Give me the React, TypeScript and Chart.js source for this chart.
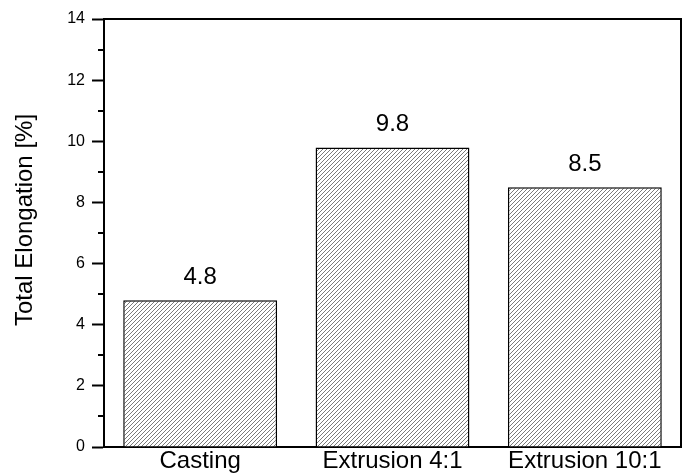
import React, { useEffect, useRef } from "react";
import { Chart, registerables } from "chart.js";

Chart.register(...registerables);

const categories = ["Casting", "Extrusion 4:1", "Extrusion 10:1"];
const elongation = [4.8, 9.8, 8.5];
const valueLabels = ["4.8", "9.8", "8.5"];
const yMinorTicks = [1, 3, 5, 7, 9, 11, 13];
const yTitle = "Total Elongation [%]";

const FONT = "'Liberation Sans', Arial, sans-serif";

export default function App() {
  const ref = useRef<HTMLCanvasElement | null>(null);

  useEffect(() => {
    const canvas = ref.current;
    if (!canvas) return;
    const ctx = canvas.getContext("2d")!;

    const pc = document.createElement("canvas");
    pc.width = 4;
    pc.height = 4;
    const p = pc.getContext("2d")!;
    p.fillStyle = "#ffffff";
    p.fillRect(0, 0, 4, 4);
    p.strokeStyle = "#7a7a7a";
    p.lineWidth = 1;
    p.beginPath();
    p.moveTo(0, 4);
    p.lineTo(4, 0);
    p.moveTo(-1, 1);
    p.lineTo(1, -1);
    p.moveTo(3, 5);
    p.lineTo(5, 3);
    p.stroke();
    const pattern = ctx.createPattern(pc, "repeat")!;

    const framePlugin = {
      id: "frame",
      afterDraw(chart: any) {
        const c = chart.ctx;
        const { left, right, top, bottom } = chart.chartArea;
        const y = chart.scales.y;
        c.save();
        c.strokeStyle = "#000";
        c.lineWidth = 2;
        c.beginPath();
        c.moveTo(left - 1, top);
        c.lineTo(right, top);
        c.lineTo(right, bottom + 1);
        c.stroke();
        c.beginPath();
        yMinorTicks.forEach((v) => {
          const py = Math.round(y.getPixelForValue(v));
          c.moveTo(left - 6, py);
          c.lineTo(left, py);
        });
        c.stroke();

        // y-axis title
        c.fillStyle = "#000";
        c.font = `24px ${FONT}`;
        c.textAlign = "center";
        c.textBaseline = "alphabetic";
        c.translate(32, 220);
        c.rotate(-Math.PI / 2);
        c.fillText(yTitle, 0, 0);
        c.restore();
      },
      afterDatasetsDraw(chart: any) {
        const c = chart.ctx;
        const meta = chart.getDatasetMeta(0);
        c.save();
        c.fillStyle = "#000";
        c.font = `24px ${FONT}`;
        c.textAlign = "center";
        c.textBaseline = "alphabetic";
        meta.data.forEach((el: any, i: number) => {
          c.fillText(valueLabels[i], el.x, el.y - 16);
        });
        c.restore();
      },
    };

    const chart = new Chart(ctx, {
      type: "bar",
      data: {
        labels: categories,
        datasets: [
          {
            data: elongation,
            backgroundColor: pattern as any,
            borderColor: "#000",
            borderWidth: 1.5,
            barPercentage: 0.8,
            categoryPercentage: 1,
          },
        ],
      },
      options: {
        responsive: false,
        animation: false,
        layout: { padding: { top: 19, right: 6, left: 0, bottom: 0 } },
        plugins: {
          legend: { display: false },
          tooltip: { enabled: false },
        },
        scales: {
          x: {
            grid: { display: false, drawTicks: false },
            border: { display: true, color: "#000", width: 2 },
            ticks: {
              color: "#000",
              font: { family: FONT, size: 24 },
              padding: 0,
              maxRotation: 0,
              autoSkip: false,
            },
            afterFit: (s: any) => {
              s.height = 26;
            },
          },
          y: {
            min: 0,
            max: 14,
            grid: {
              display: true,
              drawOnChartArea: false,
              drawTicks: true,
              tickLength: 12,
              tickColor: "#000",
              tickWidth: 2,
            },
            border: { display: true, color: "#000", width: 2 },
            ticks: {
              stepSize: 2,
              color: "#000",
              font: { family: FONT, size: 16 },
              padding: 7,
            },
            afterFit: (s: any) => {
              s.width = 104;
            },
          },
        },
      },
      plugins: [framePlugin],
    });

    return () => chart.destroy();
  }, []);

  return (
    <div style={{ position: "fixed", left: 0, top: 0, width: 687, height: 473, background: "#fff" }}>
      <canvas ref={ref} width={687} height={473} />
    </div>
  );
}
